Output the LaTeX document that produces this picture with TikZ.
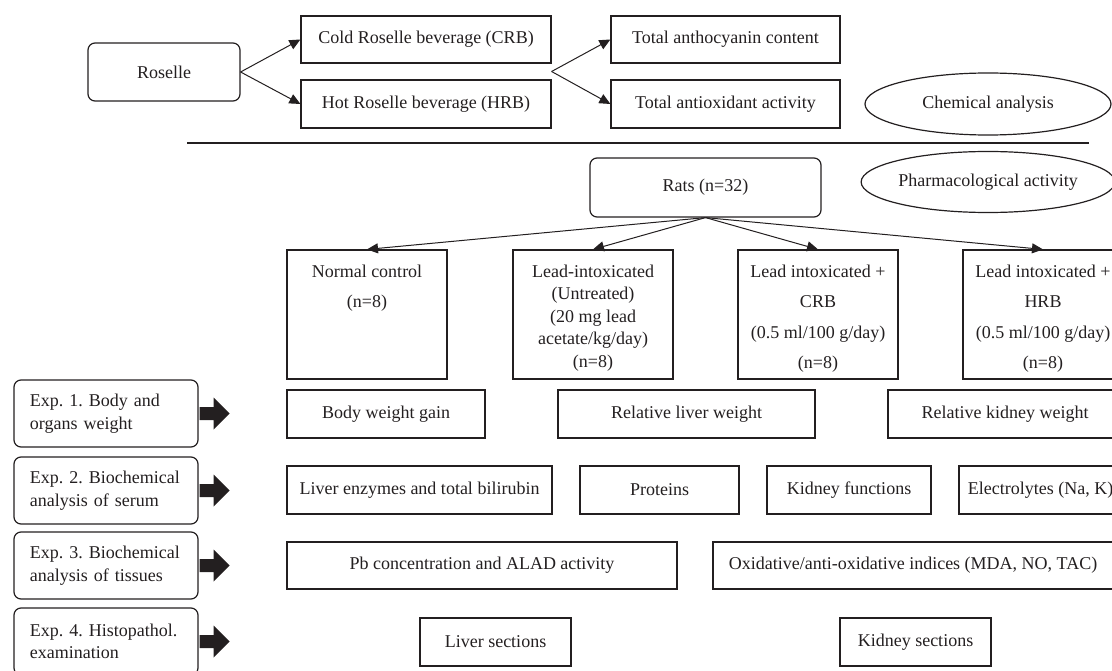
\documentclass[tikz,border=0pt]{standalone}
\usepackage{fontspec}
\setmainfont{Liberation Serif}
\usetikzlibrary{shapes.geometric,arrows.meta,calc}
\definecolor{ink}{HTML}{231F20}
\begin{document}
\begin{tikzpicture}[x=1pt,y=-1pt,
  every node/.style={font=\fontsize{18}{22.5}\selectfont\frenchspacing, text=ink},
  box/.style={draw=ink, line width=1.2pt, inner sep=0pt, minimum height=48pt},
  rbox/.style={box, rounded corners=7pt},
  ell/.style={draw=ink, line width=1.2pt, ellipse, inner sep=0pt, minimum width=246pt, minimum height=62pt},
  gbox/.style={box, minimum width=160pt, minimum height=129pt},
  gtext/.style={anchor=north, align=center, inner sep=0pt},
  expbox/.style={rbox, minimum width=184pt, minimum height=67pt, text width=152pt, align=left},
  arr/.style={draw=ink, line width=1pt, -{Triangle[length=11pt,width=10pt]}},
  fatarrow/.style={fill=ink}
]
\useasboundingbox (0,0) rectangle (1112,671);
\clip (0,0) rectangle (1112,671);

% ---- chemical part ----
\node[rbox, minimum width=152pt, minimum height=58pt] (roselle) at (164,72) {Roselle};
\node[box, minimum width=250pt, minimum height=47pt] (crb) at (426,39.5) {Cold Roselle beverage (CRB)};
\node[box, minimum width=250pt] (hrb) at (426,104) {Hot Roselle beverage (HRB)};
\node[box, minimum width=229pt, minimum height=47pt] (tac) at (725.5,39.5) {Total anthocyanin content};
\node[box, minimum width=229pt] (taa) at (725.5,104) {Total antioxidant activity};
\node[ell] (chem) at (988,104) {Chemical analysis};

\draw[arr] (roselle.east) -- (crb.west);
\draw[arr] (roselle.east) -- (hrb.west);
\coordinate (split) at ($(crb.south east)!0.5!(hrb.north east)$);
\draw[arr] (split) -- (tac.west);
\draw[arr] (split) -- (taa.west);

\draw[draw=ink, line width=1.2pt] (187,143) -- (1089,143);

% ---- pharmacological part ----
\node[rbox, minimum width=231pt, minimum height=59pt] (rats) at (705.5,187.5) {Rats (n=32)};
\node[ell, minimum height=61pt] (pharm) at (988,182) {Pharmacological activity};

\node[gbox] (g1) at (367,314.5) {};
\node[gbox] (g2) at (593,314.5) {};
\node[gbox] (g3) at (818,314.5) {};
\node[gbox] (g4) at (1043,314.5) {};
\node[gtext, yshift=-15pt] (g1t) at (g1.north) {Normal control\\[8pt](n=8)};
\node[gtext, yshift=-15pt] (g2t) at (g2.north) {Lead-intoxicated\\(Untreated)\\(20 mg lead\\acetate/kg/day)\\(n=8)};
\node[gtext, yshift=-15pt] (g3t) at (g3.north) {Lead intoxicated +\\[8pt]CRB\\[8pt](0.5 ml/100 g/day)\\[8pt](n=8)};
\node[gtext, yshift=-15pt] (g4t) at (g4.north) {Lead intoxicated +\\[8pt]HRB\\[8pt](0.5 ml/100 g/day)\\[8pt](n=8)};

\foreach \g in {g1,g2,g3,g4} \draw[arr] (rats.south) -- (\g.north);

% ---- experiments ----
\node[expbox] (e1) at (106,413.5) {\mbox{Exp. 1. Body and}\\\mbox{organs weight}};
\node[expbox] (e2) at (106,490.5) {\mbox{Exp. 2. Biochemical}\\\mbox{analysis of serum}};
\node[expbox] (e3) at (106,565.5) {\mbox{Exp. 3. Biochemical}\\\mbox{analysis of tissues}};
\node[expbox] (e4) at (106,641.5) {\mbox{Exp. 4. Histopathol.}\\\mbox{examination}};

\foreach \e in {e1,e2,e3,e4}
  \fill[fatarrow] ($(\e.east)+(1,-6.5)$) -- ++(14,0) -- ++(0,-9.5) -- ++(16,16)
     -- ++(-16,16) -- ++(0,-9.5) -- ++(-14,0) -- cycle;

% row 1
\node[box, minimum width=198pt] (bwg) at (386,414) {Body weight gain};
\node[box, minimum width=257pt] (rlw) at (686.5,414) {Relative liver weight};
\node[box, minimum width=234pt] (rkw) at (1005,414) {Relative kidney weight};
% row 2
\node[box, minimum width=265pt] (le) at (419.5,490) {Liver enzymes and total bilirubin};
\node[box, minimum width=159pt] (prot) at (659.5,490) {Proteins};
\node[box, minimum width=164pt] (kf) at (849,490) {Kidney functions};
\node[box, minimum width=163pt] (el) at (1040.5,490) {Electrolytes (Na, K)};
% row 3
\node[box, minimum width=390pt, minimum height=47pt] (pb) at (482,565.5) {Pb concentration and ALAD activity};
\node[box, minimum width=400pt, minimum height=47pt] (ox) at (913,565.5) {Oxidative/anti-oxidative indices (MDA, NO, TAC)};
% row 4
\node[box, minimum width=151pt] (ls) at (495.5,642) {Liver sections};
\node[box, minimum width=151pt] (ks) at (915.5,642) {Kidney sections};
\end{tikzpicture}
\end{document}
